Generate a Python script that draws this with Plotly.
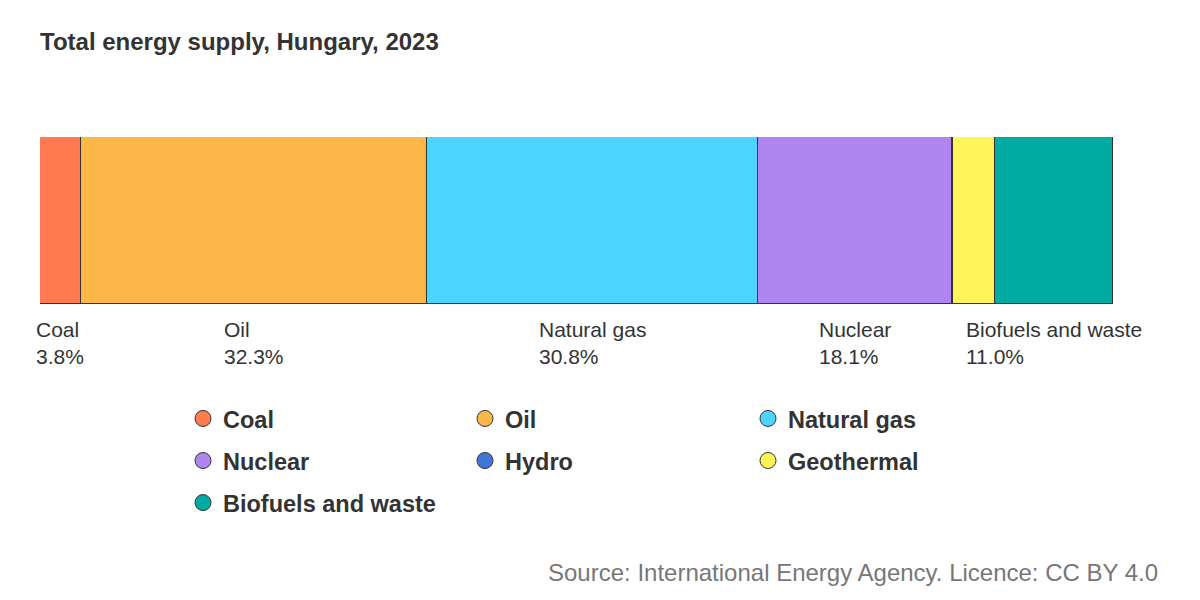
import plotly.graph_objects as go

categories = ["Coal", "Oil", "Natural gas", "Nuclear", "Hydro", "Geothermal", "Biofuels and waste"]
shares = [3.8, 32.3, 30.8, 18.1, 0.1, 3.9, 11.0]
colors = ["#FF7A50", "#FDB748", "#4BD4FF", "#B085EE", "#3F78D6", "#FFF55A", "#00ACA1"]
labelled = ["Coal", "Oil", "Natural gas", "Nuclear", "Biofuels and waste"]
legend_of = {"Coal": "legend", "Nuclear": "legend", "Biofuels and waste": "legend",
             "Oil": "legend2", "Hydro": "legend2",
             "Natural gas": "legend3", "Geothermal": "legend3"}

FONT = "Liberation Sans, Arial, sans-serif"
TXT = "#333333"

# page body has an 8px margin; compensate
OFF = 8
L, T = 40 - OFF, 137 - OFF
PW, PH = 1073, 167

fig = go.Figure()
for cat, val, col in zip(categories, shares, colors):
    fig.add_trace(go.Bar(
        x=[val], y=[0], orientation="h", name=cat,
        marker=dict(color=col, line=dict(color="#333333", width=1)),
        showlegend=False, width=1, hoverinfo="name+x",
    ))

for cat, col in zip(categories, colors):
    fig.add_trace(go.Scatter(
        x=[None], y=[None], mode="markers", name=cat,
        marker=dict(symbol="circle", size=16, color=col, line=dict(color="#333333", width=1)),
        legend=legend_of[cat], legendgroup=cat, showlegend=True,
    ))

# segment labels
cum = 0
for cat, val in zip(categories, shares):
    if cat in labelled:
        fig.add_annotation(
            x=cum + val / 2, y=0, xref="x", yref="paper",
            xanchor="center", yanchor="top", align="left", yshift=-12,
            text=f"{cat}<br>{val:.1f}%", showarrow=False,
            font=dict(family=FONT, size=21, color=TXT),
        )
    cum += val

fig.add_annotation(
    x=(1160 - 40) / PW, y=(304 - 572) / PH, xref="paper", yref="paper",
    xanchor="right", yanchor="middle", showarrow=False,
    text="Source: International Energy Agency. Licence: CC BY 4.0",
    font=dict(family=FONT, size=24, color="#777777"),
)

leg_common = dict(orientation="v", traceorder="grouped", tracegroupgap=8.5,
                  font=dict(family=FONT, size=23.5, color=TXT, weight="bold"),
                  bgcolor="rgba(0,0,0,0)", borderwidth=0,
                  xanchor="left", yanchor="top", y=-0.555)

fig.update_layout(
    width=1200, height=600,
    margin=dict(l=L, r=1200 - L - PW, t=T, b=600 - T - PH),
    plot_bgcolor="white", paper_bgcolor="white",
    barmode="stack",
    bargap=0,
    title=dict(text="<b>Total energy supply, Hungary, 2023</b>", x=L / 1200, xref="container",
               xanchor="left", y=1 - (42 - OFF) / 600, yanchor="middle",
               font=dict(family=FONT, size=24, color=TXT)),
    xaxis=dict(range=[0, 100], visible=False, fixedrange=True),
    yaxis=dict(range=[-0.5, 0.5], visible=False, fixedrange=True),
    legend=dict(x=(183 - 40) / PW, **leg_common),
    legend2=dict(x=(465 - 40) / PW, **leg_common),
    legend3=dict(x=(748 - 40) / PW, **leg_common),
    showlegend=True,
)

fig.write_html("out.html")
